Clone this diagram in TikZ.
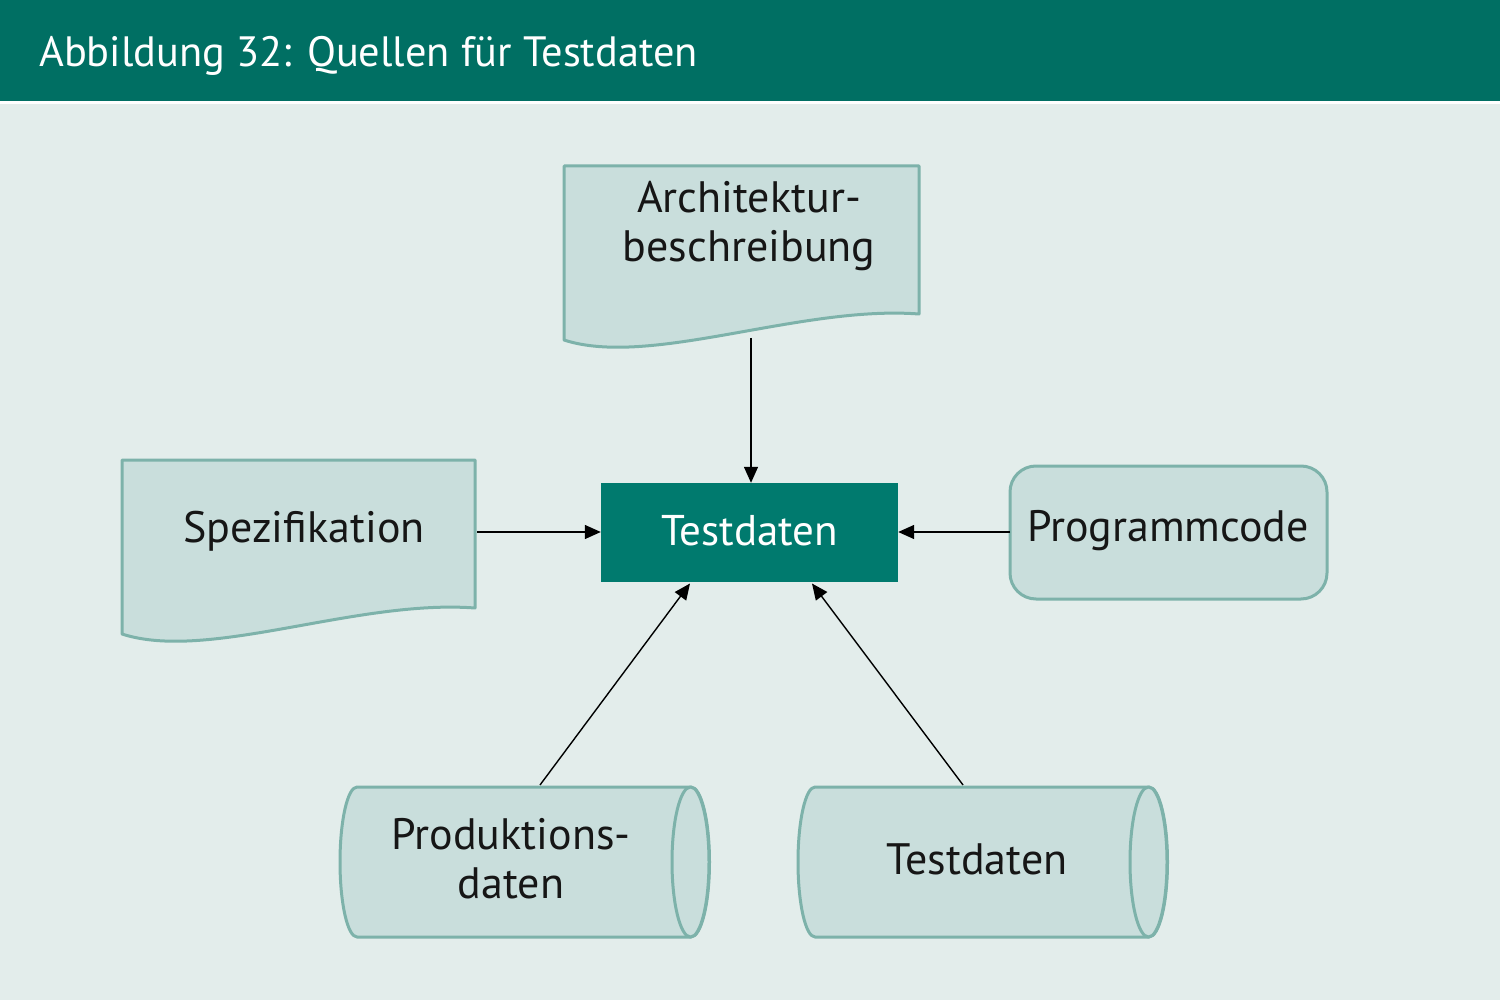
\documentclass[tikz,border=0pt]{standalone}
\usepackage{fontspec}
\setmainfont{PT Sans}
\usetikzlibrary{arrows.meta}
\definecolor{headc}{HTML}{006F63}
\definecolor{centc}{HTML}{007A6E}
\definecolor{bgc}{HTML}{E3EDEB}
\definecolor{shfill}{HTML}{C9DEDC}
\definecolor{shline}{HTML}{7DB2AA}
\definecolor{txtc}{HTML}{161616}
\tikzset{
  shapest/.style={draw=shline, fill=shfill, line width=3pt, line join=round},
  lbl/.style={font=\fontsize{44}{49}\selectfont, text=txtc, align=center, inner sep=0pt},
  conn/.style={line width=1.4pt, draw=black, -{Triangle[length=16pt,width=14pt]}},
}
\begin{document}
\begin{tikzpicture}[x=1pt,y=-1pt]
\useasboundingbox (0,0) rectangle (1500,1000);
% background and header
\fill[bgc] (0,0) rectangle (1500,1000);
\fill[headc] (0,0) rectangle (1500,101);
\fill[white] (0,101) rectangle (1500,104);
\node[anchor=base west, inner sep=0pt, text=white, font=\fontsize{42.4}{48}\selectfont] (title) at (39,67) {Abbildung 32: Quellen für Testdaten};

% Architektur document
\draw[shapest] (564,166) -- (919,166) -- (919,314)
   .. controls (800,305) and (650,368) .. (564,340) -- cycle;
\node[lbl] (arch) at (749,226) {Architektur-\\beschreibung};
\coordinate (archout) at (751,338);

% Spezifikation document
\draw[shapest] (122,460) -- (475,460) -- (475,608)
   .. controls (356,599) and (208,662) .. (122,634) -- cycle;
\node[lbl] (spez) at (304,531) {Spezifikation};
\coordinate (spezout) at (477,532);

% center box
\node[fill=centc, minimum width=297pt, minimum height=99pt, inner sep=0pt,
      text=white, font=\fontsize{43}{48}\selectfont] (center) at (749.5,532.5) {\raisebox{4pt}{Testdaten}};

% Programmcode
\draw[shapest, rounded corners=26pt] (1010,466) rectangle (1327,599);
\node[lbl] (prog) at (1168,531) {Programmcode};
\coordinate (progout) at (1010,532);

% Produktionsdaten cylinder
\draw[shapest] (357,787) -- (691,787) arc (-90:90:18.5 and 75) -- (357,937) arc (90:270:17 and 75) -- cycle;
\draw[shapest] (690.5,862) ellipse (18.5 and 75);
\node[lbl] (prod) at (511,859) {Produktions-\\daten};
\coordinate (prodout) at (540,785);

% Testdaten cylinder
\draw[shapest] (815,787) -- (1149,787) arc (-90:90:18.5 and 75) -- (815,937) arc (90:270:17 and 75) -- cycle;
\draw[shapest] (1148.5,862) ellipse (18.5 and 75);
\node[lbl] (tdat) at (977,859) {Testdaten};
\coordinate (tdatout) at (963,785);

% connectors
\draw[conn] (archout) -- (archout |- center.north);
\draw[conn] (spezout) -- (spezout -| center.west);
\draw[conn] (progout) -- (progout -| center.east);
\draw[conn] (prodout) -- (690,583.5);
\draw[conn] (tdatout) -- (812,583.5);
\end{tikzpicture}
\end{document}
